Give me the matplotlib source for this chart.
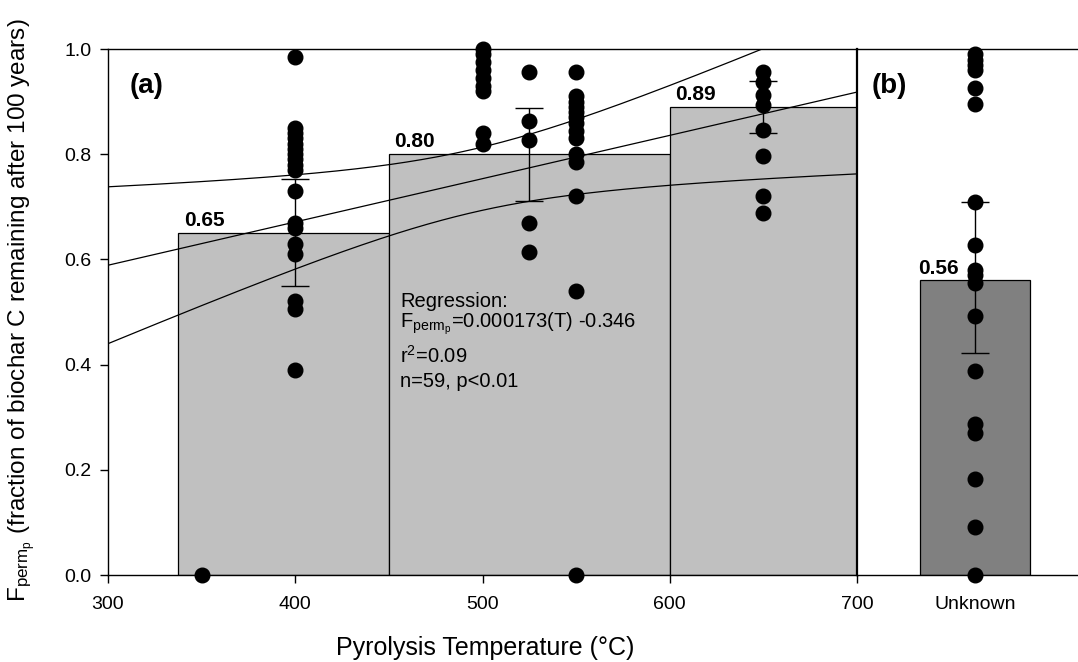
import numpy as np
import matplotlib
matplotlib.use("Agg")
import matplotlib.pyplot as plt

plt.rcParams['font.family'] = ['Liberation Sans', 'DejaVu Sans']
plt.rcParams['mathtext.fontset'] = 'custom'
plt.rcParams['mathtext.rm'] = 'Liberation Sans'

# ---------------- data ----------------
bar_left = [337.5, 450, 600]
bar_right = [450, 600, 700]
bar_means = [0.65, 0.80, 0.89]
err_x = [400, 525, 650]
err_low = [0.549, 0.711, 0.840]
err_high = [0.752, 0.888, 0.939]

pts_350 = [0.0]
pts_400 = [0.985, 0.85, 0.84, 0.83, 0.82, 0.81, 0.80, 0.79, 0.78, 0.77,
           0.73, 0.67, 0.66, 0.63, 0.61, 0.52, 0.505, 0.39]
pts_500 = [1.0, 0.99, 0.975, 0.96, 0.945, 0.93, 0.92, 0.84, 0.82]
pts_525 = [0.956, 0.863, 0.827, 0.669, 0.614]
pts_550 = [0.956, 0.91, 0.90, 0.89, 0.88, 0.87, 0.86, 0.845, 0.83,
           0.80, 0.785, 0.72, 0.54, 0.0]
pts_650 = [0.956, 0.937, 0.913, 0.894, 0.846, 0.797, 0.721, 0.688]
group_temps = [350, 400, 500, 525, 550, 650]
group_pts = [pts_350, pts_400, pts_500, pts_525, pts_550, pts_650]

unknown_label = "Unknown"
unknown_mean = 0.56
unknown_err_low = 0.422
unknown_err_high = 0.709
pts_unknown = [0.99, 0.98, 0.97, 0.96, 0.926, 0.895, 0.709, 0.627, 0.58,
               0.57, 0.555, 0.492, 0.388, 0.287, 0.27, 0.183, 0.091, 0.0]

# regression line (as drawn) and its confidence band
reg_slope = 0.000823
reg_intercept = 0.342
ci_xbar = 495.0
ci_h0 = 0.06
ci_k = 0.0007

x_ticks = [300, 400, 500, 600, 700]
y_ticks = [0.0, 0.2, 0.4, 0.6, 0.8, 1.0]

# ---------------- figure ----------------
W, H = 1078, 662
fig = plt.figure(figsize=(W / 100, H / 100), dpi=100)
ax = fig.add_axes([108 / W, (H - 575) / H, 749 / W, 526 / H])
axb = fig.add_axes([857 / W, (H - 575) / H, 221 / W, 526 / H])

light = '#c0c0c0'
dark = '#808080'
fs_tick = 14
fs_val = 15
fs_reg = 14.5
fs_panel = 20
lw = 0.9

# bars
for l, r, m in zip(bar_left, bar_right, bar_means):
    ax.bar(l, m, width=r - l, align='edge', color=light, edgecolor='black',
           linewidth=lw, zorder=1)
    ax.text(l + 3, m + 0.013, f"{m:.2f}", fontsize=fs_val, fontweight='bold',
            ha='left', va='baseline', zorder=5)

# regression and band
T = np.linspace(300, 700, 400)
fit = reg_intercept + reg_slope * T
hw = np.sqrt(ci_h0 ** 2 + (ci_k * (T - ci_xbar)) ** 2)
for curve in (fit, fit + hw, fit - hw):
    ax.plot(T, curve, color='black', linewidth=0.9, zorder=2)

# error bars
for x, lo, hi, m in zip(err_x, err_low, err_high, bar_means):
    ax.errorbar([x], [m], yerr=[[m - lo], [hi - m]], fmt='none',
                ecolor='black', elinewidth=1, capsize=10, capthick=1, zorder=3)

# points
for t, pts in zip(group_temps, group_pts):
    ax.plot([t] * len(pts), pts, 'o', color='black', markersize=10.5,
            clip_on=False, zorder=4)

ax.set_xlim(300, 700)
ax.set_ylim(0, 1.0)
ax.set_xticks(x_ticks)
ax.set_yticks(y_ticks)
ax.set_yticklabels([f"{v:.1f}" for v in y_ticks])
ax.tick_params(direction='out', length=6, width=1, labelsize=fs_tick)
ax.tick_params(axis='x', pad=9)
ax.tick_params(axis='y', pad=6)
for s in ax.spines.values():
    s.set_linewidth(1)

ax.set_xlabel("Pyrolysis Temperature (°C)", fontsize=18)
ax.xaxis.label.set_va('center')
ax.xaxis.set_label_coords((485 - 108) / 749, -(648 - 575) / 526)
ax.set_ylabel(r"$\mathregular{F_{perm_p}}$ (fraction of biochar C remaining after 100 years)",
              fontsize=17.5)
ax.yaxis.label.set_va('center')
ax.yaxis.set_label_coords((22 - 108) / 749, (575 - 310) / 526)

ax.text(311.5, 0.93, "(a)", fontsize=fs_panel, fontweight='bold', va='center')

# regression text
ax.text(456, 0.5095, "Regression:", fontsize=fs_reg, va='baseline')
ax.text(456, 0.471, r"$\mathregular{F_{perm_p}}$=0.000173(T) -0.346", fontsize=fs_reg, va='baseline')
ax.text(456, 0.403, r"r$^{\mathregular{2}}$=0.09", fontsize=fs_reg, va='baseline')
ax.text(456, 0.357, "n=59, p<0.01", fontsize=fs_reg, va='baseline')

# panel b
axb.bar([0], [unknown_mean], width=1.0, color=dark, edgecolor='black',
        linewidth=lw, zorder=1)
axb.errorbar([0], [unknown_mean],
             yerr=[[unknown_mean - unknown_err_low], [unknown_err_high - unknown_mean]],
             fmt='none', ecolor='black', elinewidth=1, capsize=10, capthick=1, zorder=3)
axb.plot([0] * len(pts_unknown), pts_unknown, 'o', color='black',
         markersize=10.5, clip_on=False, zorder=4)
axb.text(-0.52, unknown_mean + 0.013, f"{unknown_mean:.2f}", fontsize=fs_val,
         fontweight='bold', ha='left', va='baseline', zorder=5)
axb.text(-0.934, 0.93, "(b)", fontsize=fs_panel, fontweight='bold', va='center')
axb.set_xlim(-1.07, 0.93)
axb.set_ylim(0, 1.0)
axb.set_xticks([0])
axb.set_xticklabels([unknown_label])
axb.set_yticks([])
axb.tick_params(axis='x', length=0, labelsize=fs_tick, pad=15)
axb.spines['right'].set_visible(False)
for s in axb.spines.values():
    s.set_linewidth(1)
axb.spines['left'].set_linewidth(1.6)

fig.savefig("out.png", dpi=100)
